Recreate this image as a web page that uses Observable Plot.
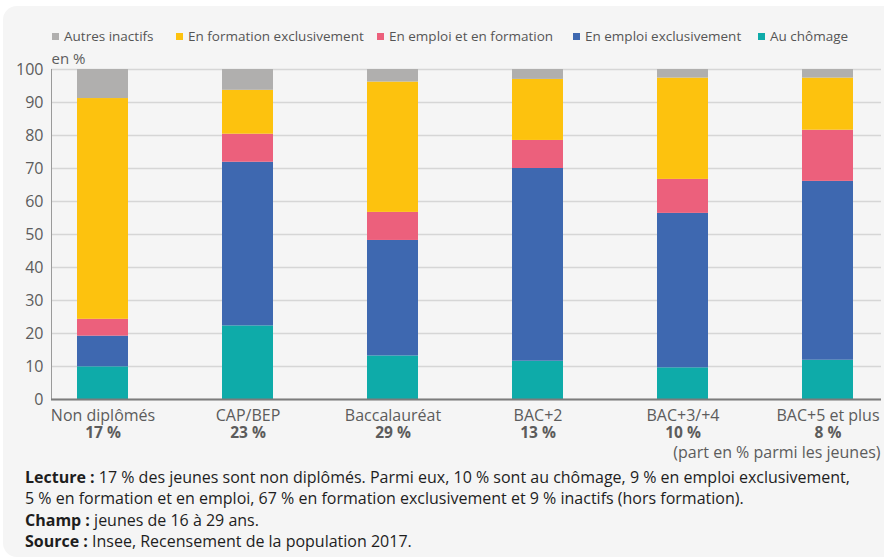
<!DOCTYPE html>
<html>
<head>
<meta charset="utf-8">
<script src="https://cdn.jsdelivr.net/npm/d3@7"></script>
<script src="https://cdn.jsdelivr.net/npm/@observablehq/plot@0.6"></script>
<style>
  html, body { margin: 0; padding: 0; background: #ffffff; font-family: "Open Sans", sans-serif; }
  #card { position: absolute; left: 3px; top: 6px; width: 900px; height: 551px; background: #f5f5f5; border-radius: 14px; }
  #legend { position: absolute; top: 26px; left: 0; height: 20px; font-size: 13.5px; color: #555; }
  .item { position: absolute; top: 0; white-space: nowrap; line-height: 20px; }
  .sw { display: inline-block; width: 7px; height: 7px; margin-right: 5px; vertical-align: 1px; }
  #chart { position: absolute; left: 0; top: 45px; }
  #footer { position: absolute; left: 25px; top: 467px; font-size: 16px; line-height: 21.3px; color: #1e1e1e; white-space: nowrap; }
  #footer b { font-weight: 700; }
</style>
</head>
<body>
<div id="card"></div>
<div id="legend"></div>
<div id="chart"></div>
<div id="footer">
  <div><b>Lecture :</b> 17 % des jeunes sont non diplômés. Parmi eux, 10 % sont au chômage, 9 % en emploi exclusivement,</div>
  <div>5 % en formation et en emploi, 67 % en formation exclusivement et 9 % inactifs (hors formation).</div>
  <div><b>Champ :</b> jeunes de 16 à 29 ans.</div>
  <div><b>Source :</b> Insee, Recensement de la population 2017.</div>
</div>
<script>
const categories = ["Non diplômés", "CAP/BEP", "Baccalauréat", "BAC+2", "BAC+3/+4", "BAC+5 et plus"];
const shares = ["17 %", "23 %", "29 %", "13 %", "10 %", "8 %"];
const series = ["Au chômage", "En emploi exclusivement", "En emploi et en formation", "En formation exclusivement", "Autres inactifs"];
const legendOrder = ["Autres inactifs", "En formation exclusivement", "En emploi et en formation", "En emploi exclusivement", "Au chômage"];
const colors = ["#0eaba9", "#3e68b0", "#ec607c", "#fdc20e", "#b0afae"];
const auChomage = [9.9, 22.3, 13.2, 11.6, 9.6, 11.9];
const emploiExclusif = [9.3, 49.6, 35.0, 58.4, 46.8, 54.2];
const emploiFormation = [5.1, 8.5, 8.5, 8.5, 10.3, 15.5];
const formationExclusive = [66.9, 13.3, 39.5, 18.5, 30.7, 15.8];
const autresInactifs = [8.8, 6.3, 3.8, 3.0, 2.6, 2.6];
const yTicks = [0, 10, 20, 30, 40, 50, 60, 70, 80, 90, 100];

const valuesBySeries = [auChomage, emploiExclusif, emploiFormation, formationExclusive, autresInactifs];
const rows = [];
series.forEach((s, si) => categories.forEach((c, ci) => rows.push({cat: c, series: s, value: valuesBySeries[si][ci]})));
const shareRows = categories.map((c, i) => ({cat: c, share: shares[i]}));

// legend
const legendX = [52, 176, 377, 573, 758];
const legend = document.getElementById("legend");
legendOrder.forEach((s, i) => {
  const d = document.createElement("div");
  d.className = "item";
  d.style.left = legendX[i] + "px";
  const sw = document.createElement("span");
  sw.className = "sw";
  sw.style.background = colors[series.indexOf(s)];
  d.appendChild(sw);
  d.appendChild(document.createTextNode(s));
  legend.appendChild(d);
});

const chart = Plot.plot({
  width: 884,
  height: 420,
  marginTop: 24,
  marginBottom: 66,
  marginLeft: 51,
  marginRight: 3,
  style: {background: "transparent", fontFamily: "Open Sans", fontSize: "16px", color: "#5c5c5c"},
  x: {type: "band", domain: categories, range: [27.7, 901.3], paddingInner: 0.65, paddingOuter: 0.325, label: null},
  y: {domain: [0, 100], label: null},
  color: {domain: series, range: colors},
  marks: [
    Plot.gridY(yTicks, {stroke: "#d6d6d6", strokeOpacity: 1, strokeWidth: 1.5}),
    Plot.barY(rows, {x: "cat", y: "value", fill: "series", order: series}),
    Plot.frame({anchor: "left", stroke: "#9a9a9a", strokeWidth: 1}),
    Plot.ruleY([0], {stroke: "#7c7c7c", strokeWidth: 2}),
    Plot.axisY({ticks: yTicks, tickSize: 0, tickPadding: 8, fontSize: 16, label: null}),
    Plot.axisX({tickSize: 0, tickPadding: 10, fontSize: 16, label: null}),
    Plot.text(shareRows, {x: "cat", text: "share", frameAnchor: "bottom", lineAnchor: "middle", dy: 34, fontWeight: "bold", fontSize: 15.5, fill: "#5c5c5c"}),
    Plot.text(["(part en % parmi les jeunes)"], {frameAnchor: "bottom-right", lineAnchor: "middle", dy: 53, dx: -1, textAnchor: "end", fontSize: 16, fill: "#5c5c5c"}),
    Plot.text(["en %"], {frameAnchor: "top-left", lineAnchor: "middle", dy: -10, textAnchor: "start", fontSize: 15, fill: "#5c5c5c"})
  ]
});
document.getElementById("chart").appendChild(chart);
</script>
</body>
</html>
